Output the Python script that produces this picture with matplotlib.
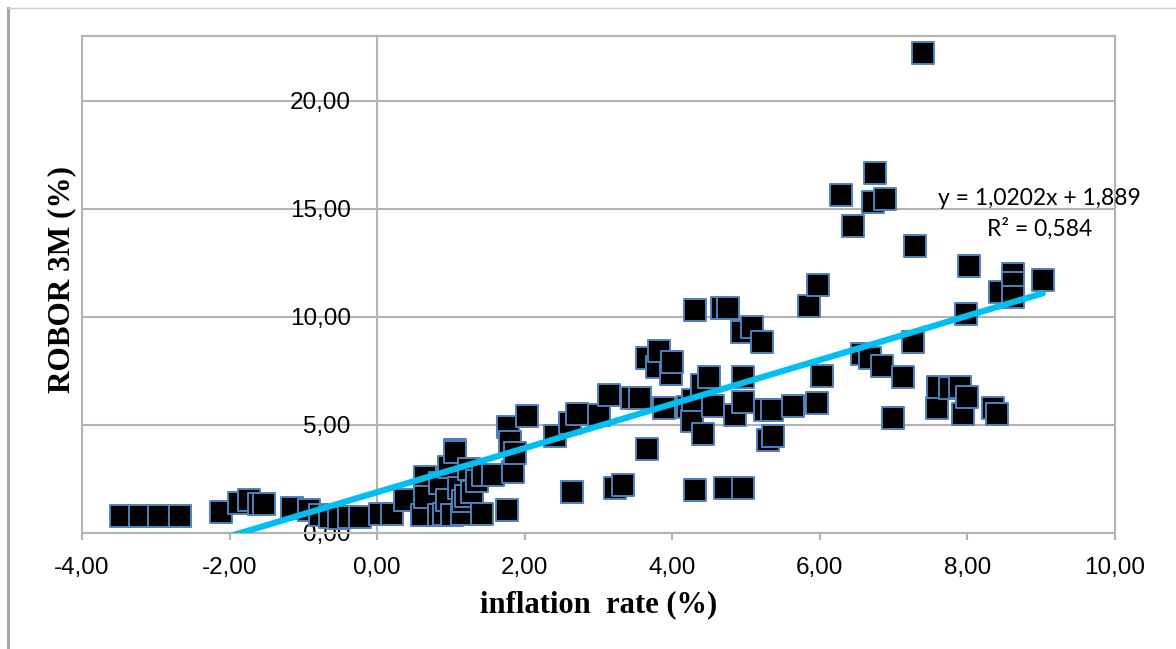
import matplotlib
matplotlib.use("Agg")
import matplotlib.pyplot as plt
import numpy as np
from matplotlib.patches import Rectangle
from matplotlib.lines import Line2D

# ---- data ----
inflation = [
    -3.47, -3.21, -2.96, -2.67, -2.12, -1.87, -1.74, -1.60, -1.53,
    -1.15, -0.92, -0.77, -0.64, -0.52, -0.38, -0.23, 0.04, 0.20,
    0.38, 0.61, 0.65, 0.65, 0.84, 0.85, 0.90, 0.95, 0.97, 1.01, 1.05, 1.05,
    1.11, 1.15, 1.16, 1.20, 1.25, 1.28, 1.35, 1.42, 1.43, 1.57, 1.76,
    1.77, 1.80, 1.84, 1.87, 2.03, 2.41, 2.61, 2.64, 2.71, 3.00, 3.14,
    3.22, 3.33, 3.45, 3.56, 3.66, 3.66, 3.79, 3.82, 3.89, 3.98, 4.00,
    4.21, 4.27, 4.28, 4.31, 4.31, 4.40, 4.42, 4.50, 4.55, 4.67, 4.71,
    4.75, 4.85, 4.94, 4.96, 4.96, 4.96, 5.08, 5.21, 5.25, 5.30, 5.35,
    5.36, 5.63, 5.85, 5.96, 5.97, 6.03, 6.28, 6.45, 6.57, 6.68, 6.72,
    6.75, 6.84, 6.88, 6.99, 7.13, 7.26, 7.29, 7.40, 7.59, 7.60, 7.76,
    7.90, 7.94, 7.98, 7.99, 8.02, 8.35, 8.40, 8.44, 8.62, 8.62, 8.62,
    9.02,
]
robor = [
    0.79, 0.79, 0.79, 0.79, 0.98, 1.38, 1.53, 1.33, 1.35,
    1.15, 1.05, 0.83, 0.75, 0.68, 0.75, 0.75, 0.87, 0.87,
    1.53, 0.83, 2.60, 1.67, 0.83, 2.30, 0.90, 1.53, 3.05, 0.83, 3.85, 3.75,
    2.10, 0.90, 1.50, 1.70, 2.95, 1.90, 2.40, 0.90, 2.70, 2.70, 1.07,
    4.90, 4.20, 2.80, 3.70, 5.40, 4.50, 5.10, 1.90, 5.50, 5.45, 6.40,
    2.10, 2.20, 6.25, 6.25, 3.90, 8.10, 7.70, 8.40, 5.80, 7.35, 7.90,
    5.85, 5.20, 6.15, 10.30, 2.00, 6.85, 4.60, 7.20, 5.90, 10.40, 2.10,
    10.40, 5.45, 9.30, 7.20, 6.05, 2.10, 9.55, 8.85, 5.70, 4.30, 5.70,
    4.50, 5.90, 10.50, 6.00, 11.50, 7.25, 15.65, 14.20, 8.30, 8.10, 15.30,
    16.65, 7.75, 15.45, 5.30, 7.20, 8.85, 13.30, 22.20, 5.80, 6.75, 6.70,
    6.75, 5.50, 10.15, 6.30, 12.35, 5.80, 5.50, 11.15, 12.00, 11.55, 10.90,
    11.70,
]
trend_slope = 1.0202
trend_intercept = 1.889
eq_text = "y = 1,0202x + 1,889"
r2_text = "R² = 0,584"
x_ticks = [-4, -2, 0, 2, 4, 6, 8, 10]
y_ticks = [0, 5, 10, 15, 20]
x_label = "inflation  rate (%)"
y_label = "ROBOR 3M (%)"

def comma(v):
    return f"{v:.2f}".replace(".", ",")

W, H = 1176, 649
fig = plt.figure(figsize=(W / 100, H / 100), dpi=100)
ax = fig.add_axes([82 / W, 1 - 533 / H, (1115 - 82) / W, (533 - 36) / H])

grid_c = "#B3B3B3"
ax.set_xlim(-4, 10)
ax.set_ylim(0, 23)

# horizontal gridlines
for yv in y_ticks[1:]:
    ax.axhline(yv, color=grid_c, lw=1.5, zorder=1)

for s in ["top", "right", "bottom"]:
    ax.spines[s].set_color(grid_c)
    ax.spines[s].set_linewidth(1.5)
ax.spines["left"].set_position(("data", 0))
ax.spines["left"].set_color(grid_c)
ax.spines["left"].set_linewidth(1.5)
ax.add_patch(Rectangle((0, 0), 1, 1, transform=ax.transAxes, fill=False,
                       edgecolor=grid_c, lw=1.5, zorder=0.5, clip_on=False))

ax.set_xticks(x_ticks)
ax.set_xticklabels([comma(v) for v in x_ticks])
ax.set_yticks(y_ticks)
ax.set_yticklabels([comma(v) for v in y_ticks])
ax.tick_params(axis="x", length=5, width=1.5, color=grid_c, pad=12,
               labelsize=17.5, labelcolor="black")
ax.tick_params(axis="y", length=0, pad=19, labelsize=17.5, labelcolor="black")
for lab in ax.get_xticklabels() + ax.get_yticklabels():
    lab.set_fontfamily("Liberation Sans")
for lab in ax.get_yticklabels():
    lab.set_zorder(0.8)

# scatter points
ax.scatter(inflation, robor, marker="s", s=230, facecolor="black",
           edgecolor="#4F81BD", linewidths=1.4, zorder=3)

# linear trendline (Excel-style, over the x range of the data)
xs = np.array([min(inflation), max(inflation)])
ax.plot(xs, trend_slope * xs + trend_intercept, color="#00BFF3", lw=4.5,
        solid_capstyle="round", zorder=4)

ax.text(8.98, 15.5, eq_text, ha="center", va="center", fontsize=16.5,
        family="Lato", zorder=5)
ax.text(8.98, 14.07, r2_text, ha="center", va="center", fontsize=16.5,
        family="Lato", zorder=5)

ax.set_xlabel(x_label, fontsize=22, fontweight="bold",
              family="Liberation Serif", labelpad=8)
fig.text(62 / W, 1 - 280 / H, y_label, rotation=90, ha="center", va="center",
         fontsize=22.5, fontweight="bold", family="Liberation Serif")

# outer frame lines of the original picture
fig.add_artist(Line2D([8 / W, 8 / W], [0, 1 - 8 / H], transform=fig.transFigure,
                      color="#A6A6A6", lw=2.2))
fig.add_artist(Line2D([8 / W, 1], [1 - 8 / H, 1 - 8 / H], transform=fig.transFigure,
                      color="#D0D0D0", lw=1.0))

fig.savefig("out.png", dpi=100)
